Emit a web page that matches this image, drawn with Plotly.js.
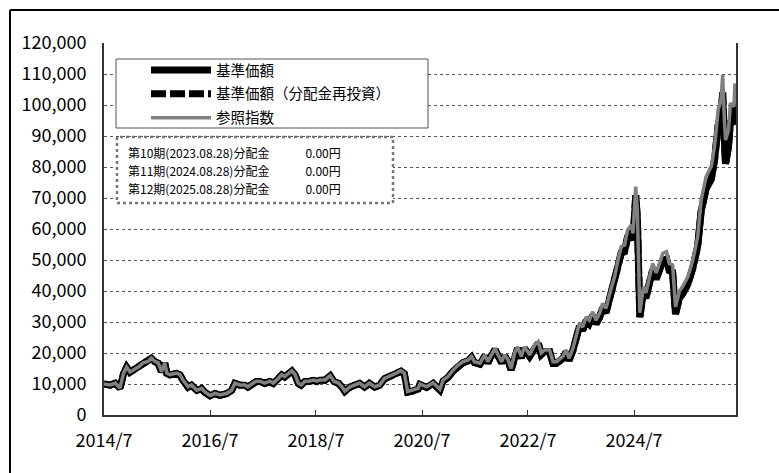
<!DOCTYPE html>
<html>
<head>
<meta charset="utf-8">
<script src="https://cdn.plot.ly/plotly-3.0.1.min.js"></script>
<style>html,body{margin:0;padding:0;background:#fff;}#chart{width:779px;height:473px;}</style>
</head>
<body>
<div id="chart"></div>
<script>
const seriesNames = ['基準価額', '基準価額（分配金再投資）', '参照指数'];

const dates = [
'2014-07-01','2014-08-13','2014-09-16','2014-10-19','2014-11-13','2014-12-04','2014-12-27','2015-01-19','2015-02-23','2015-03-27',
'2015-05-01','2015-05-24','2015-06-16','2015-07-10','2015-08-01','2015-08-24','2015-09-07','2015-09-28','2015-11-13','2015-12-07',
'2015-12-27','2016-02-01','2016-02-24','2016-04-01','2016-05-04','2016-05-24','2016-07-01','2016-08-04','2016-09-07','2016-10-24',
'2016-11-27','2016-12-19','2017-01-24','2017-02-27','2017-03-19','2017-04-24','2017-05-16','2017-06-10','2017-07-13','2017-08-16',
'2017-09-10','2017-10-13','2017-11-07','2017-11-27','2017-12-21','2018-01-16','2018-02-07','2018-03-01','2018-03-21','2018-04-16',
'2018-05-10','2018-06-13','2018-07-07','2018-07-27','2018-09-01','2018-10-07','2018-11-01','2018-12-04','2018-12-27','2019-01-16',
'2019-02-21','2019-03-24','2019-04-27','2019-06-01','2019-07-04','2019-08-10','2019-09-13','2019-10-16','2019-11-19','2020-01-04',
'2020-02-07','2020-03-01','2020-03-24','2020-05-01','2020-06-04','2020-06-16','2020-08-01','2020-09-16','2020-10-10','2020-11-01',
'2020-11-24','2020-12-27','2021-02-01','2021-03-07','2021-04-10','2021-05-13','2021-06-07','2021-06-27','2021-08-04','2021-09-07',
'2021-09-27','2021-10-21','2021-11-16','2021-12-07','2022-01-01','2022-01-21','2022-02-15','2022-03-07','2022-04-01','2022-04-21',
'2022-05-16','2022-06-07','2022-07-13','2022-08-16','2022-09-10','2022-10-01','2022-10-24','2022-11-27','2022-12-21','2023-01-13',
'2023-02-07','2023-02-27','2023-03-21','2023-04-10','2023-05-07','2023-05-27','2023-06-21','2023-07-13','2023-08-07','2023-08-27',
'2023-09-21','2023-10-13','2023-11-07','2023-11-27','2023-12-21','2024-01-13','2024-02-18','2024-03-13','2024-04-04','2024-04-27',
'2024-05-18','2024-06-13','2024-06-24','2024-07-13','2024-07-24','2024-08-10','2024-09-04','2024-09-21','2024-10-16','2024-11-07',
'2024-12-01','2024-12-21','2025-01-16','2025-02-10','2025-03-01','2025-03-24','2025-04-13','2025-05-10','2025-06-01','2025-07-07',
'2025-08-10','2025-09-13','2025-10-07','2025-11-10','2025-12-16','2026-01-07','2026-02-01','2026-02-21','2026-03-04','2026-03-16',
'2026-03-24','2026-04-13','2026-04-27','2026-05-21','2026-05-28','2026-06-04'
];

const refIndex = [
10000,9700,10300,8700,13500,15500,13900,14500,15500,16800,
17300,18400,17300,16800,14000,16800,13500,13000,13500,13000,
11300,9100,9700,8000,8600,7500,6300,7000,6450,7000,
8000,10300,9700,9700,9100,10300,10900,10900,10300,10900,
10300,11800,13000,12400,13500,14300,13000,10300,9700,10900,
10900,11300,10900,11300,11300,12700,10900,10300,9100,7700,
9100,9700,10300,9100,10300,9100,9700,11800,12400,13500,
14300,13500,7600,8000,8600,10000,9100,10400,9400,8300,
11300,12400,14500,16100,17200,17700,18900,17200,16700,19400,
17200,19400,21500,19400,17200,19400,17700,15000,20100,22000,
18900,22000,19400,22600,23700,20000,21000,21000,17200,17200,
18300,18900,21000,18300,21500,25000,29600,28300,31700,30600,
33300,30600,32800,36000,34400,38700,44600,50000,54300,54800,
59700,61300,58600,73700,66100,33000,41400,39400,44600,48900,
45800,48900,52200,52700,48900,48400,34900,40000,41400,44600,
50000,57500,69400,76900,80300,86600,98400,101600,109700,95200,
88700,91900,100600,99500,107000,100500
];

const navValues = [
10000,9650,10250,8600,13400,15400,13800,14400,15400,16700,
17200,18300,17200,16700,13900,16700,13400,12900,13400,12900,
11200,9000,9600,7900,8500,7400,6200,6900,6350,6900,
7900,10200,9600,9600,9000,10200,10800,10800,10200,10800,
10200,11700,12900,12300,13400,14200,12900,10200,9600,10800,
10800,11200,10800,11200,11200,12600,10800,10200,9000,7600,
9000,9600,10200,9000,10200,9000,9600,11700,12300,13300,
14100,13300,7400,7800,8400,9800,8900,10200,9200,8100,
11000,12100,14200,15800,16900,17400,18600,16900,16400,19000,
16800,19000,21100,19000,16800,19000,17300,14600,19700,21500,
18400,21500,18900,22100,23200,19500,20500,20500,16600,16600,
17700,18300,20300,17600,20800,24200,28700,27300,30600,29500,
32100,29400,31500,34600,33000,37200,42900,48100,52300,52700,
57500,59000,56300,70900,63500,31600,39700,37700,42700,46800,
43800,46700,49900,50300,46600,46100,32600,37800,39100,42200,
47300,54500,65800,73000,76200,82200,93500,96500,104000,88500,
81000,86500,95000,94000,100500,98000
];

const navReinvested = [
10000,9650,10250,8600,13400,15400,13800,14400,15400,16700,
17200,18300,17200,16700,13900,16700,13400,12900,13400,12900,
11200,9000,9600,7900,8500,7400,6200,6900,6350,6900,
7900,10200,9600,9600,9000,10200,10800,10800,10200,10800,
10200,11700,12900,12300,13400,14200,12900,10200,9600,10800,
10800,11200,10800,11200,11200,12600,10800,10200,9000,7600,
9000,9600,10200,9000,10200,9000,9600,11700,12300,13300,
14100,13300,7400,7800,8400,9800,8900,10200,9200,8100,
11000,12100,14200,15800,16900,17400,18600,16900,16400,19000,
16800,19000,21100,19000,16800,19000,17300,14600,19700,21500,
18400,21500,18900,22100,23200,19500,20500,20500,16600,16600,
17700,18300,20300,17600,20800,24200,28700,27300,30600,29500,
32100,29400,31500,34600,33000,37200,42900,48100,52300,52700,
57500,59000,56300,70900,63500,31600,39700,37700,42700,46800,
43800,46700,49900,50300,46600,46100,32600,37800,39100,42200,
47300,54500,65800,73000,76200,82200,93500,96500,104000,88500,
81000,86500,95000,94000,100500,98000
];

const xTickVals = ['2014-07-01','2016-07-01','2018-07-01','2020-07-01','2022-07-01','2024-07-01'];
const xTickText = ['2014/7','2016/7','2018/7','2020/7','2022/7','2024/7'];
const xRange = ['2014-07-01','2026-06-04'];
const yRange = [0, 120000];

const distributions = [
  '第10期(2023.08.28)分配金　　　0.00円',
  '第11期(2024.08.28)分配金　　　0.00円',
  '第12期(2025.08.28)分配金　　　0.00円'
];

// layout helpers (pixel -> paper)
const L = 104, R = 736, T = 43, B = 415;
const px = p => (p - L) / (R - L);
const py = p => (B - p) / (B - T);

const FONT = '"Noto Sans CJK JP", "Noto Sans", sans-serif';

const traces = [
  {x: dates, y: navValues, name: seriesNames[0], type: 'scatter', mode: 'lines',
   line: {color: '#000000', width: 7}, legendgroup: 'a'},
  {x: dates, y: navReinvested, name: seriesNames[1], type: 'scatter', mode: 'lines',
   line: {color: '#000000', width: 7, dash: '15px,4px'}, legendgroup: 'b'},
  {x: dates, y: refIndex, name: seriesNames[2], type: 'scatter', mode: 'lines',
   line: {color: '#808080', width: 3.5}, legendgroup: 'c'}
];

const noteLineY = [152, 170, 188];
const annotations = distributions.map((t, i) => ({
  xref: 'paper', yref: 'paper', x: px(127), y: py(noteLineY[i]), xanchor: 'left', yanchor: 'middle',
  text: t, showarrow: false, align: 'left', borderpad: 0,
  font: {family: FONT, size: 12, color: '#000'}
}));

const layout = {
  width: 779, height: 473,
  margin: {l: L, r: 779 - R, t: T, b: 473 - B, pad: 0},
  paper_bgcolor: '#ffffff', plot_bgcolor: '#ffffff',
  font: {family: FONT, color: '#000000', size: 14},
  showlegend: true,
  legend: {
    x: px(146), y: py(54), xanchor: 'left', yanchor: 'top',
    bgcolor: 'rgba(0,0,0,0)', borderwidth: 0,
    font: {family: FONT, size: 14.5, color: '#000'},
    itemwidth: 60, tracegroupgap: 2, traceorder: 'grouped'
  },
  xaxis: {
    type: 'date', range: xRange,
    tickmode: 'array', tickvals: xTickVals, ticktext: xTickText,
    ticks: 'inside', ticklen: 5, tickwidth: 1, tickcolor: '#333',
    showgrid: false, zeroline: false,
    showline: true, linecolor: '#333', linewidth: 2,
    tickfont: {family: FONT, size: 18, color: '#000'},
    ticklabelstandoff: 8
  },
  yaxis: {
    range: yRange, dtick: 10000, tick0: 0, tickformat: ',d',
    ticks: '', showgrid: true, gridcolor: '#555', griddash: 'dot', gridwidth: 1,
    zeroline: false, showline: true, mirror: true, linecolor: '#333', linewidth: 2,
    tickfont: {family: FONT, size: 18, color: '#000'},
    ticklabelstandoff: 12
  },
  shapes: [
    // outer frame (left and top edges)
    {type: 'line', xref: 'paper', yref: 'paper', x0: px(10), x1: px(10), y0: py(473), y1: py(10),
     line: {color: '#000', width: 2}, layer: 'above'},
    {type: 'line', xref: 'paper', yref: 'paper', x0: px(10), x1: px(779), y0: py(10), y1: py(10),
     line: {color: '#000', width: 2}, layer: 'above'},
    // legend box
    {type: 'rect', xref: 'paper', yref: 'paper', x0: px(116), x1: px(428), y0: py(128), y1: py(59),
     line: {color: '#555', width: 1}, fillcolor: '#ffffff', layer: 'above'},
    // distribution box
    {type: 'rect', xref: 'paper', yref: 'paper', x0: px(117), x1: px(393), y0: py(203), y1: py(137),
     line: {color: '#777', width: 2.5, dash: 'dot'}, fillcolor: '#ffffff', layer: 'above'}
  ],
  annotations: annotations
};

Plotly.newPlot('chart', traces, layout, {displayModeBar: false, staticPlot: true});
</script>
</body>
</html>
